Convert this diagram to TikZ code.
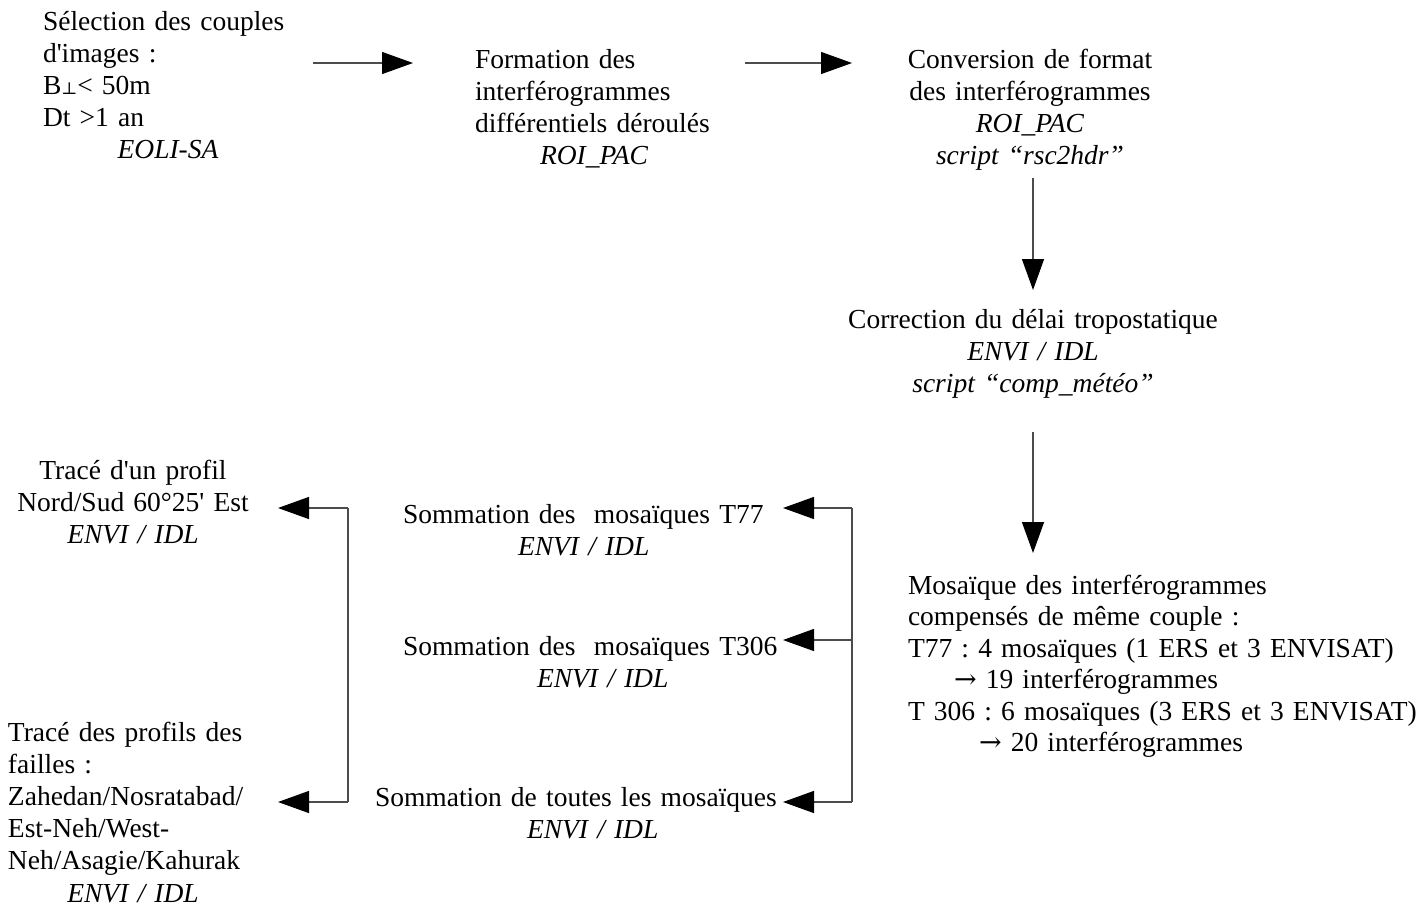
\documentclass[tikz,border=0pt]{standalone}
\usepackage{fontspec}
\setmainfont{Liberation Serif}[Ligatures=TeXOff]
\newfontfamily\symfam{DejaVu Serif}
\newcommand\perpsym{{\symfam\fontsize{17}{20}\selectfont ⊥}}
\newcommand\arrsym{{\symfam\fontsize{27}{27}\selectfont →}}
\usetikzlibrary{arrows.meta}
\begin{document}
\begin{tikzpicture}[x=1pt,y=-1pt,
  txt/.style={inner sep=0pt, outer sep=0pt, font=\fontsize{27.5}{32.2}\selectfont\frenchspacing},
  lnk/.style={draw=black!70, line width=1.3pt},
  conn/.style={lnk, -{Triangle[length=31pt,width=22pt,color=black,fill=black]}}]
\useasboundingbox (0,0) rectangle (1418,908);

\node[txt, anchor=north west, text width=252pt, align=left] (sel) at (43,7.46)
  {\strut\makebox[250pt][s]{Sélection des couples}\\ d'images :\\ B\perpsym< 50m\\ Dt >1 an\\ \makebox[250pt]{\itshape EOLI-SA}};
\node[txt, anchor=north west, text width=242pt, align=left] (form) at (475,45.46)
  {\strut Formation des\\ interférogrammes\\ différentiels déroulés\\ \makebox[238pt]{\itshape ROI\_PAC}};
\node[txt, anchor=north, text width=270pt, align=center] (conv) at (1030,45.46)
  {\strut Conversion de format\\ des interférogrammes\\ \textit{ROI\_PAC}\\ \textit{script “rsc2hdr”}};
\node[txt, anchor=north, text width=390pt, align=center] (corr) at (1033,305.46)
  {\strut Correction du délai tropostatique\\ \textit{ENVI / IDL}\\ \textit{script “comp\_météo”}};
\node[txt, font=\fontsize{27.5}{31.5}\selectfont\frenchspacing, anchor=north west, text width=508pt, align=left] (mos) at (908,571.95)
  {\strut Mosaïque des interférogrammes\\ compensés de même couple :\\ \mbox{T77 : 4 mosaïques (1 ERS et 3 ENVISAT)}\\ \hspace*{46pt}\arrsym\ 19 interférogrammes\\ \mbox{T 306 : 6 mosaïques (3 ERS et 3 ENVISAT)}\\ \hspace*{71pt}\arrsym\ 20 interférogrammes};
\node[txt, anchor=north west, text width=380pt, align=left] (som1) at (403,500.46)
  {\strut\mbox{Sommation des\ \ mosaïques T77}\\ \hspace*{115pt}\textit{ENVI / IDL}};
\node[txt, anchor=north west, text width=380pt, align=left] (som2) at (403,632.46)
  {\strut\mbox{Sommation des\ \ mosaïques T306}\\ \hspace*{134pt}\textit{ENVI / IDL}};
\node[txt, anchor=north west, text width=408pt, align=left] (som3) at (375,783.46)
  {\strut\mbox{Sommation de toutes les mosaïques}\\ \hspace*{152pt}\textit{ENVI / IDL}};
\node[txt, anchor=north, text width=290pt, align=center] (prof1) at (133,456.46)
  {\strut Tracé d'un profil\\ Nord/Sud 60°25' Est\\ \textit{ENVI / IDL}};
\node[txt, anchor=north west, text width=270pt, align=left] (prof2) at (8,718.46)
  {\strut Tracé des profils des\\ failles :\\ Zahedan/Nosratabad/\\ Est-Neh/West-\\ Neh/Asagie/Kahurak\\ \makebox[250pt]{\itshape ENVI / IDL}};

\coordinate (h1a) at (313,63); \coordinate (h1b) at (413,63);
\coordinate (h2a) at (745,63); \coordinate (h2b) at (852,63);
\coordinate (v1a) at (1033,178); \coordinate (v1b) at (1033,290);
\coordinate (v2a) at (1033,432); \coordinate (v2b) at (1033,553);
\coordinate (rb1) at (852,508); \coordinate (rb2) at (852,640); \coordinate (rb3) at (852,802);
\coordinate (lb1) at (348,508); \coordinate (lb3) at (348,802);

\draw[conn] (h1a) -- (h1b);
\draw[conn] (h2a) -- (h2b);
\draw[conn] (v1a) -- (v1b);
\draw[conn] (v2a) -- (v2b);
\draw[lnk] (rb1) -- (rb3);
\draw[conn] (rb1) -- (som1.east |- rb1);
\draw[conn] (rb2) -- (som2.east |- rb2);
\draw[conn] (rb3) -- (som3.east |- rb3);
\draw[lnk] (lb1) -- (lb3);
\draw[conn] (lb1) -- (prof1.east |- lb1);
\draw[conn] (lb3) -- (prof2.east |- lb3);
\end{tikzpicture}
\end{document}
